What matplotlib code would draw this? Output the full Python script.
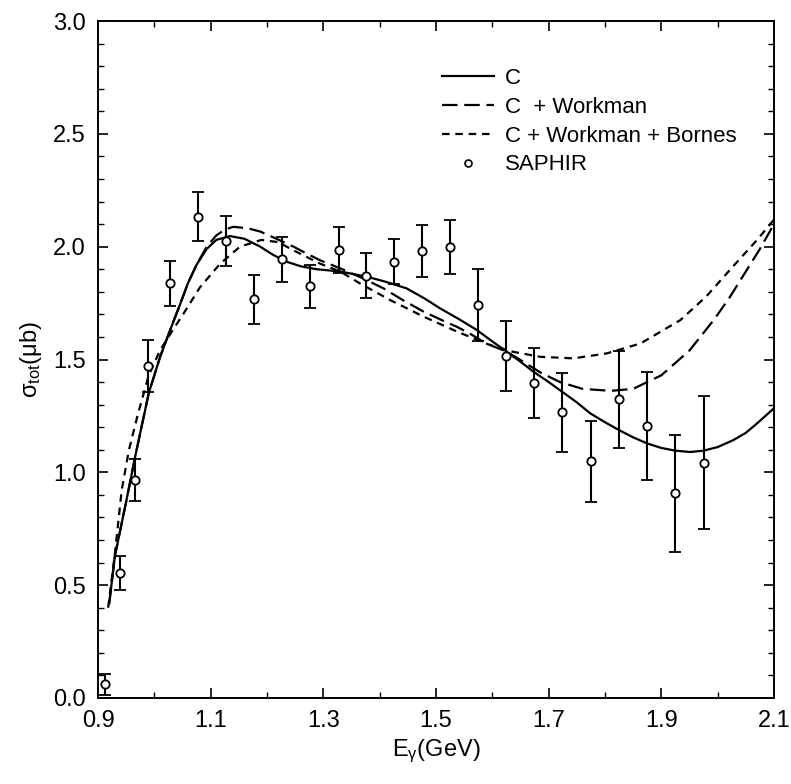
import numpy as np
import matplotlib
matplotlib.use('Agg')
import matplotlib.pyplot as plt
from matplotlib.lines import Line2D

plt.rcParams['font.family'] = ['Liberation Sans', 'DejaVu Sans']
plt.rcParams['mathtext.fontset'] = 'custom'
plt.rcParams['mathtext.rm'] = 'Liberation Sans'
plt.rcParams['mathtext.it'] = 'Liberation Sans'

# SAPHIR data
e_data = [0.913, 0.939, 0.965, 0.989, 1.027, 1.077, 1.127, 1.177, 1.227, 1.276,
          1.327, 1.376, 1.426, 1.475, 1.525, 1.574, 1.624, 1.674, 1.724, 1.775,
          1.825, 1.875, 1.925, 1.975]
sig_data = [0.06, 0.555, 0.966, 1.471, 1.837, 2.133, 2.025, 1.766, 1.944, 1.825,
            1.985, 1.871, 1.933, 1.981, 1.998, 1.74, 1.515, 1.394, 1.267, 1.049,
            1.323, 1.205, 0.907, 1.043]
sig_err = [0.045, 0.075, 0.095, 0.115, 0.1, 0.11, 0.11, 0.11, 0.1, 0.095,
           0.1, 0.1, 0.1, 0.115, 0.12, 0.16, 0.155, 0.155, 0.175, 0.18,
           0.215, 0.24, 0.26, 0.295]

# model curves
e_c = [0.92, 0.93, 0.95, 0.966, 0.99, 1.01, 1.028, 1.045, 1.06, 1.075, 1.093, 1.11,
       1.134, 1.16, 1.188, 1.21, 1.235, 1.26, 1.288, 1.33, 1.377, 1.41, 1.448, 1.48,
       1.507, 1.54, 1.573, 1.6, 1.626, 1.65, 1.673, 1.7, 1.724, 1.75, 1.774, 1.8,
       1.825, 1.85, 1.875, 1.9, 1.925, 1.951, 1.975, 2.0, 2.028, 2.05, 2.07, 2.1]
sig_c = [0.42, 0.63, 0.87, 1.07, 1.35, 1.51, 1.63, 1.74, 1.84, 1.92, 1.99, 2.03,
         2.047, 2.035, 2.0, 1.965, 1.933, 1.913, 1.9, 1.89, 1.867, 1.845, 1.815, 1.77,
         1.727, 1.68, 1.63, 1.58, 1.534, 1.49, 1.446, 1.4, 1.357, 1.31, 1.261, 1.222,
         1.187, 1.155, 1.128, 1.108, 1.096, 1.09, 1.096, 1.112, 1.143, 1.175, 1.217, 1.284]

e_cw = [0.92, 0.93, 0.95, 0.966, 0.99, 1.01, 1.028, 1.045, 1.06, 1.075, 1.093, 1.11,
        1.125, 1.14, 1.165, 1.188, 1.215, 1.247, 1.27, 1.294, 1.33, 1.37, 1.407, 1.44,
        1.478, 1.51, 1.537, 1.56, 1.579, 1.6, 1.626, 1.655, 1.685, 1.72, 1.76, 1.81,
        1.85, 1.9, 1.95, 1.993, 2.02, 2.05, 2.075, 2.1]
sig_cw = [0.42, 0.63, 0.87, 1.07, 1.35, 1.51, 1.63, 1.74, 1.84, 1.92, 2.0, 2.05,
          2.075, 2.088, 2.082, 2.067, 2.037, 2.0, 1.97, 1.94, 1.904, 1.86, 1.815, 1.765,
          1.712, 1.675, 1.645, 1.615, 1.586, 1.56, 1.534, 1.49, 1.443, 1.4, 1.37, 1.361,
          1.37, 1.43, 1.54, 1.675, 1.77, 1.89, 1.99, 2.1]

e_cwb = [0.918, 0.93, 0.942, 0.955, 0.97, 0.99, 1.01, 1.03, 1.052, 1.081, 1.117,
         1.152, 1.19, 1.22, 1.25, 1.294, 1.33, 1.365, 1.419, 1.478, 1.537, 1.596,
         1.637, 1.685, 1.744, 1.803, 1.863, 1.934, 1.98, 2.03, 2.07, 2.1]
sig_cwb = [0.4, 0.64, 0.92, 1.1, 1.25, 1.43, 1.54, 1.62, 1.704, 1.82, 1.925,
           2.0, 2.03, 2.02, 1.98, 1.925, 1.89, 1.837, 1.763, 1.69, 1.624, 1.564,
           1.534, 1.512, 1.505, 1.527, 1.571, 1.675, 1.78, 1.92, 2.03, 2.12]

fig = plt.figure(figsize=(7.91, 7.84), dpi=100)
ax = fig.add_axes([0.1239, 0.1097, 0.8546, 0.8635])

lw = 1.6
long_dash = (0, (7.0, 3.0))
short_dash = (0, (3.4, 2.6))
ax.plot(e_c, sig_c, color='black', lw=lw)
ax.plot(e_cw, sig_cw, color='black', lw=lw, linestyle=long_dash)
ax.plot(e_cwb, sig_cwb, color='black', lw=lw, linestyle=short_dash)
ax.errorbar(e_data, sig_data, yerr=sig_err, fmt='o', mfc='white', mec='black',
            mew=1.3, ms=6, ecolor='black', elinewidth=1.5, capsize=4, capthick=1.3)

ax.set_xlim(0.9, 2.1)
ax.set_ylim(0.0, 3.0)
ax.set_xticks(np.arange(0.9, 2.11, 0.2))
ax.set_xticks(np.arange(0.9, 2.11, 0.1), minor=True)
ax.set_yticks(np.arange(0.0, 3.01, 0.5))
ax.set_yticks(np.arange(0.0, 3.01, 0.1), minor=True)
ax.xaxis.set_major_formatter(matplotlib.ticker.FormatStrFormatter('%.1f'))
ax.yaxis.set_major_formatter(matplotlib.ticker.FormatStrFormatter('%.1f'))
ax.tick_params(which='both', direction='in', top=True, right=True, labelsize=17)
ax.tick_params(which='major', length=7, width=1.2, pad=9)
ax.tick_params(which='minor', length=4, width=1.0)
for s in ax.spines.values():
    s.set_linewidth(1.4)

ax.set_xlabel(r'E$_{\gamma}$(GeV)', fontsize=17, labelpad=4)
ax.set_ylabel(r'$\sigma_{tot}$($\mu$b)', fontsize=17, labelpad=6)

handles = [Line2D([], [], color='black', lw=lw),
           Line2D([], [], color='black', lw=lw, linestyle=long_dash),
           Line2D([], [], color='black', lw=lw, linestyle=short_dash),
           Line2D([], [], color='black', lw=0, marker='o', mfc='white', ms=5, mew=1.2)]
labels = ['C', 'C  + Workman', 'C + Workman + Bornes', 'SAPHIR']
leg = ax.legend(handles, labels, loc='upper left', bbox_to_anchor=(0.48, 0.96),
                frameon=False, fontsize=16, handlelength=2.3, handletextpad=0.5,
                labelspacing=0.35)

fig.savefig('out.png', dpi=100)
